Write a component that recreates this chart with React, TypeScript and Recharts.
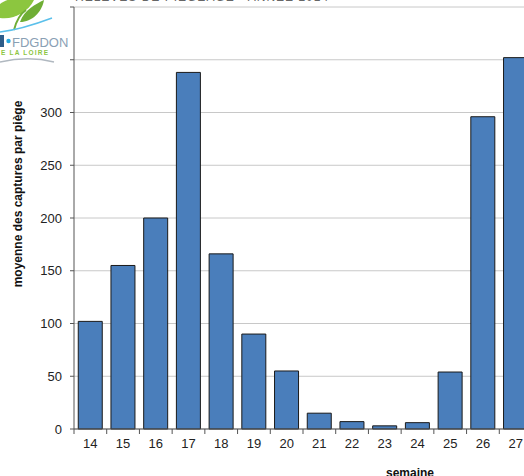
import React from "react";
import { BarChart, Bar, XAxis, YAxis, CartesianGrid } from "recharts";

const weeks = ["14", "15", "16", "17", "18", "19", "20", "21", "22", "23", "24", "25", "26", "27"];
const captures = [102, 155, 200, 338, 166, 90, 55, 15, 7, 3, 6, 54, 296, 352];
const yTicks = [0, 50, 100, 150, 200, 250, 300, 350, 400];

const data = weeks.map((w, i) => ({ week: w, value: captures[i] }));

const CHART_W = 560;
const CHART_H = 476;
const M = { top: 7, right: 28, left: 24, bottom: 17 };
const Y_W = 50;
const BAND = (CHART_W - M.left - Y_W - M.right) / weeks.length;
const FONT = "'Liberation Sans', Arial, sans-serif";

function XTick(props: any) {
  const { x, y, payload, index } = props;
  const half = BAND / 2;
  return (
    <g>
      <line x1={x - half} y1={y} x2={x - half} y2={y + 5} stroke="#555" />
      {index === weeks.length - 1 && (
        <line x1={x + half} y1={y} x2={x + half} y2={y + 5} stroke="#555" />
      )}
      <text x={x} y={y + 19} textAnchor="middle" fontSize={13} fill="#222" fontFamily={FONT}>
        {payload.value}
      </text>
    </g>
  );
}

function Logo() {
  return (
    <svg width={72} height={66} style={{ position: "absolute", left: 0, top: 0 }}>
      <path d="M0 4 C10 -4 26 -2 34 0 C28 12 14 20 0 18 Z" fill="#8cc63f" />
      <path d="M20 22 C24 10 36 4 44 0 C42 12 32 22 20 22 Z" fill="#6fae35" />
      <path d="M14 30 C16 22 20 14 26 10" stroke="#6fae35" strokeWidth={2} fill="none" />
      <path d="M0 32 C18 30 36 24 52 18" stroke="#5bc0eb" strokeWidth={1.5} fill="none" />
      <rect x={0} y={35} width={4} height={12} fill="#2e5d8a" />
      <circle cx={8.5} cy={41} r={2.2} fill="#29a9e0" />
      <text x={12} y={47} fontSize={13} fontFamily={FONT} fill="#8aa0b4">FDGDON</text>
      <text x={1} y={55} fontSize={6.5} fontWeight="bold" letterSpacing={1.2} fontFamily={FONT} fill="#8dc63f">
        E LA LOIRE
      </text>
      <path d="M0 62 C18 58 38 58 54 62" stroke="#b0b8c0" strokeWidth={1.5} fill="none" />
    </svg>
  );
}

export default function App() {
  return (
    <div style={{ position: "absolute", left: 0, top: 0, width: 524, height: 476, overflow: "hidden", background: "#fff" }}>
      <div
        style={{
          position: "absolute",
          left: 75,
          top: -10,
          fontFamily: FONT,
          fontSize: 12,
          color: "#666",
          letterSpacing: 1,
          whiteSpace: "nowrap",
        }}
      >
        RELEVÉS DE PIÉGEAGE - ANNÉE 2014
      </div>
      <BarChart width={CHART_W} height={CHART_H} data={data} margin={M} barCategoryGap="13%">
        <CartesianGrid vertical={false} stroke="#c8c8c8" />
        <XAxis
          dataKey="week"
          tickLine={false}
          tickSize={0}
          tickMargin={0}
          axisLine={{ stroke: "#555" }}
          tick={<XTick />}
          interval={0}
          height={30}
          label={{
            content: () => (
              <text x={410} y={477} textAnchor="middle" fontSize={12} fontWeight="bold" fontFamily={FONT} fill="#111">
                semaine
              </text>
            ),
          }}
        />
        <YAxis
          width={Y_W}
          domain={[0, 400]}
          ticks={yTicks}
          interval={0}
          tickFormatter={(v: number) => (v > 300 ? "" : String(v))}
          tick={{ fontSize: 13, fill: "#222", fontFamily: FONT }}
          tickSize={4}
          tickMargin={8}
          tickLine={{ stroke: "#555" }}
          axisLine={{ stroke: "#555" }}
          label={{
            content: () => (
              <text
                x={19}
                y={194}
                transform="rotate(-90 19 194)"
                textAnchor="middle"
                dominantBaseline="middle"
                fontSize={12}
                fontWeight="bold"
                fontFamily={FONT}
                fill="#111"
              >
                moyenne des captures par piège
              </text>
            ),
          }}
        />
        <Bar dataKey="value" fill="#4a7ebb" stroke="#1a1a1a" strokeWidth={1} isAnimationActive={false} />
      </BarChart>
      <Logo />
    </div>
  );
}
